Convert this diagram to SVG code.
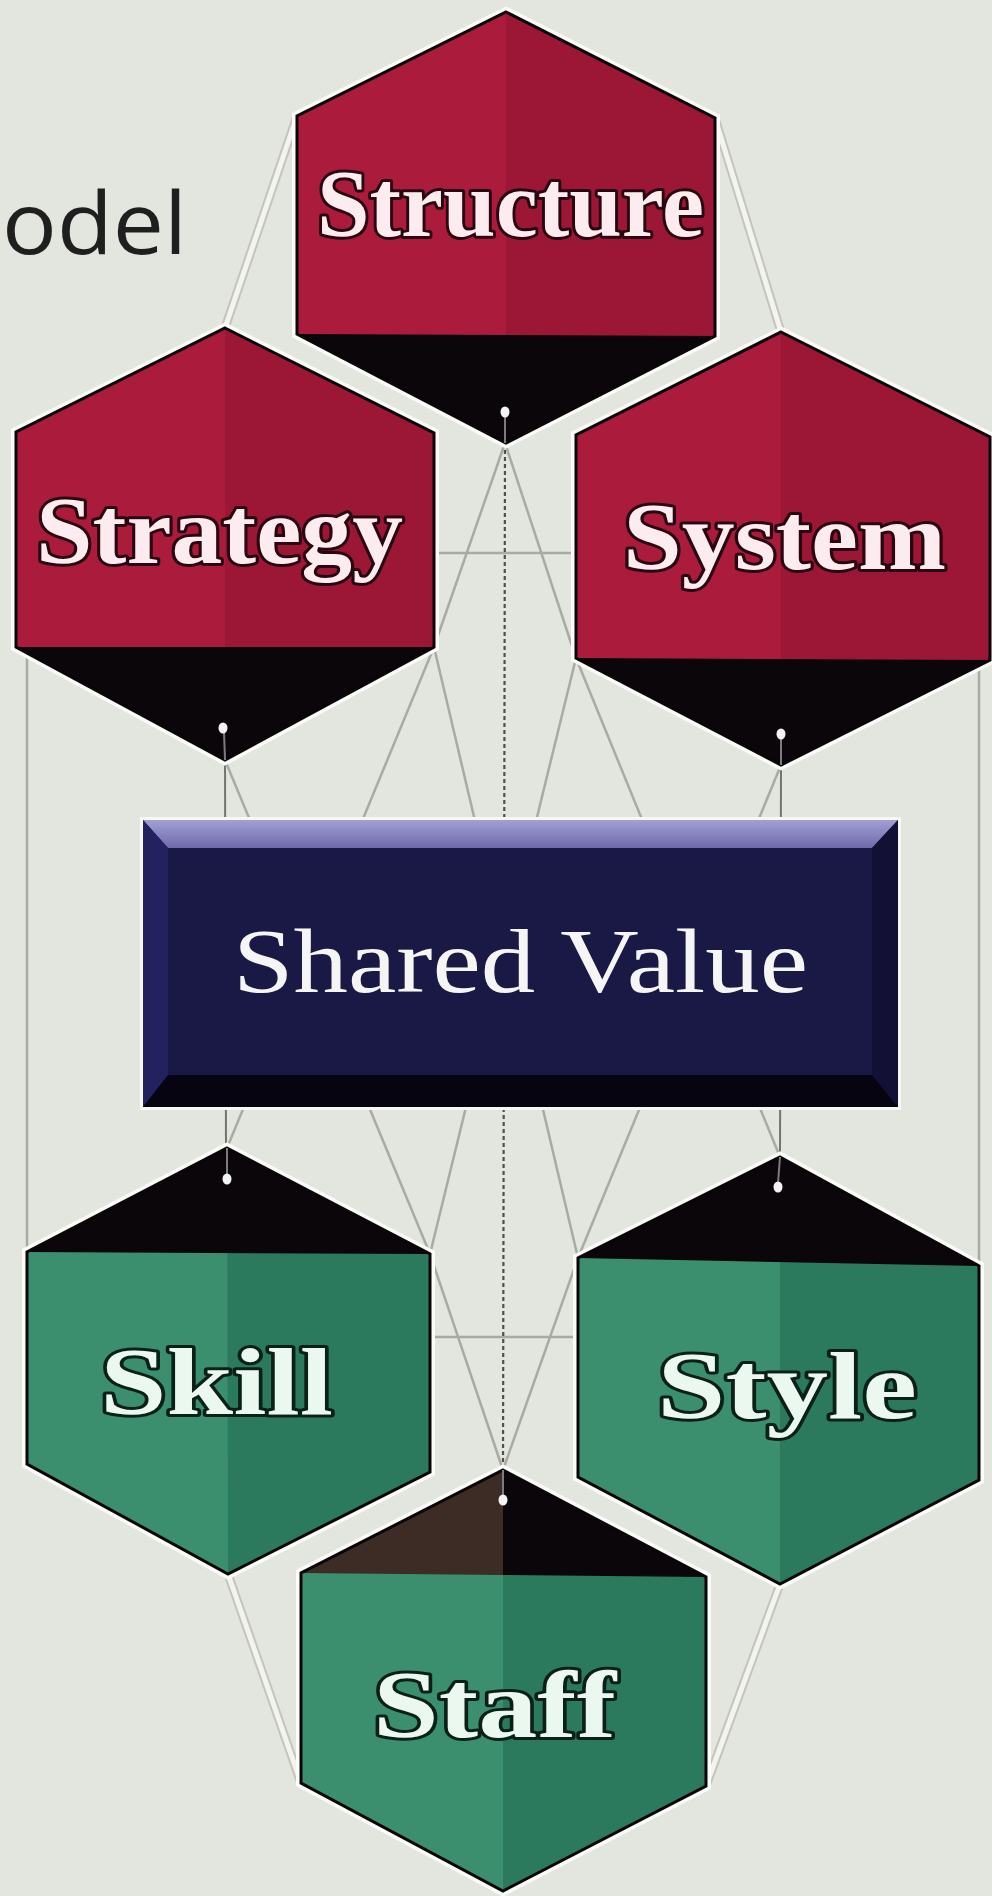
<svg xmlns="http://www.w3.org/2000/svg" width="992" height="1896" viewBox="0 0 992 1896">
<defs>
<style>
.bg{fill:#e3e6de}
.halo{fill:none;stroke:#fbfcf8;stroke-width:10;stroke-linejoin:miter}
.edge{fill:none;stroke:#0a0508;stroke-width:3;stroke-linejoin:miter}
.redL{fill:#aa1b3c}.redR{fill:#9c1636}
.grnL{fill:#3b8f6f}.grnR{fill:#2c7a5d}
.blk{fill:#0b0609}.brn{fill:#3d2b26}
.lbl{font-family:"Liberation Serif","Times New Roman",serif;font-weight:bold;font-size:96px;paint-order:stroke;stroke-width:6;stroke-linejoin:round}
.lr{fill:#fdecef;stroke:#2a0710}
.lg{fill:#ebf8f0;stroke:#0a2018}
.ln{fill:none;stroke:#a9aba3;stroke-width:2.5}
.ctr{fill:none;stroke:#4e504c;stroke-width:2.2;stroke-dasharray:4 3}
.str{fill:none;stroke:#72746e;stroke-width:2}
.rib{fill:none;stroke:#c3c5bd;stroke-width:9}
.ribw{fill:none;stroke:#f3f4ef;stroke-width:5}
.dot{fill:#f4f4f4}
.hook{stroke:#7a7c80;stroke-width:2}
</style>
<linearGradient id="bev" x1="0" y1="0" x2="0" y2="1">
<stop offset="0" stop-color="#a29fd4"/><stop offset="1" stop-color="#6e6bab"/>
</linearGradient>
</defs>
<rect class="bg" x="0" y="0" width="992" height="1896"/>
<text x="2" y="254" font-family="'Open Sans','Noto Sans',sans-serif" font-size="86" fill="#1f1f1f" textLength="185" lengthAdjust="spacingAndGlyphs">odel</text>

<g id="connectors">
<line class="rib" x1="297" y1="116" x2="225" y2="328"/><line class="ribw" x1="297" y1="116" x2="225" y2="328"/>
<line class="rib" x1="715" y1="118" x2="781" y2="332"/><line class="ribw" x1="715" y1="118" x2="781" y2="332"/>
<line class="rib" x1="228" y1="1574" x2="301" y2="1783"/><line class="ribw" x1="228" y1="1574" x2="301" y2="1783"/>
<line class="rib" x1="780" y1="1584" x2="706" y2="1786"/><line class="ribw" x1="780" y1="1584" x2="706" y2="1786"/>
<line class="ln" x1="27" y1="645" x2="27" y2="1255"/>
<line class="ln" x1="979" y1="660" x2="979" y2="1268"/>
<line class="ln" x1="434" y1="553" x2="576" y2="553"/>
<line class="ln" x1="430" y1="1337" x2="578" y2="1337"/>
<line class="ln" x1="505" y1="443" x2="434" y2="647"/>
<line class="ln" x1="505" y1="443" x2="576" y2="658"/>
<line class="ln" x1="434" y1="647" x2="227" y2="1148"/>
<line class="ln" x1="576" y1="658" x2="780" y2="1157"/>
<line class="ln" x1="434" y1="647" x2="578" y2="1258"/>
<line class="ln" x1="576" y1="658" x2="430" y2="1254"/>
<line class="ln" x1="225" y1="760" x2="430" y2="1254"/>
<line class="ln" x1="781" y1="765" x2="578" y2="1258"/>
<line class="ln" x1="430" y1="1254" x2="503" y2="1470"/>
<line class="ln" x1="578" y1="1258" x2="503" y2="1470"/>
<line class="str" x1="225" y1="760" x2="226" y2="1148"/>
<line class="str" x1="781" y1="765" x2="780" y2="1157"/>
<line class="ctr" x1="505" y1="443" x2="503" y2="1470"/>
</g>

<g id="structure">
<polygon class="halo" points="506,12 715,118 715,336 506,443 297,334 297,116"/>
<polygon class="redL" points="506,12 715,118 715,336 506,443 297,334 297,116"/>
<polygon class="redR" points="506,12 715,118 715,336 506,443"/>
<polygon class="blk" points="297,334 715,336 506,443"/>
<polygon class="edge" points="506,12 715,118 715,336 506,443 297,334 297,116"/>
<line class="hook" x1="505" y1="416" x2="505" y2="443"/>
<ellipse class="dot" cx="505" cy="412" rx="4.5" ry="5.5"/>
<text class="lbl lr" x="317" y="236" textLength="387" lengthAdjust="spacingAndGlyphs">Structure</text>
</g>

<g id="strategy">
<polygon class="halo" points="225,328 434,433 434,647 225,760 16,647 16,432"/>
<polygon class="redL" points="225,328 434,433 434,647 225,760 16,647 16,432"/>
<polygon class="redR" points="225,328 434,433 434,647 225,760"/>
<polygon class="blk" points="16,647 434,647 225,760"/>
<polygon class="edge" points="225,328 434,433 434,647 225,760 16,647 16,432"/>
<line class="hook" x1="224" y1="732" x2="225" y2="760"/>
<ellipse class="dot" cx="223" cy="728" rx="4.5" ry="5.5"/>
<text class="lbl lr" x="36" y="563" textLength="367" lengthAdjust="spacingAndGlyphs">Strategy</text>
</g>

<g id="system">
<polygon class="halo" points="781,332 990,437 990,660 781,765 576,658 576,435"/>
<polygon class="redL" points="781,332 990,437 990,660 781,765 576,658 576,435"/>
<polygon class="redR" points="781,332 990,437 990,660 781,765"/>
<polygon class="blk" points="576,658 990,660 781,765"/>
<polygon class="edge" points="781,332 990,437 990,660 781,765 576,658 576,435"/>
<line class="hook" x1="781" y1="738" x2="781" y2="765"/>
<ellipse class="dot" cx="781" cy="734" rx="4.5" ry="5.5"/>
<text class="lbl lr" x="623" y="569" textLength="323" lengthAdjust="spacingAndGlyphs">System</text>
</g>

<g id="shared-value">
<rect x="140" y="817" width="761" height="293" fill="#f7f8f4"/>
<rect x="143" y="820" width="755" height="287" fill="#1a1946"/>
<polygon points="143,820 898,820 872,848 168,848" fill="url(#bev)"/>
<polygon points="143,820 168,848 168,1075 143,1107" fill="#23215e"/>
<polygon points="898,820 872,848 872,1075 898,1107" fill="#121135"/>
<polygon points="143,1107 168,1075 872,1075 898,1107" fill="#050410"/>
<text x="233" y="992" font-family="'Liberation Serif','Times New Roman',serif" font-size="92" fill="#f5f5f5" textLength="575" lengthAdjust="spacingAndGlyphs">Shared Value</text>
</g>

<g id="skill">
<polygon class="halo" points="227,1148 430,1254 430,1472 228,1574 27,1464 27,1252"/>
<polygon class="grnL" points="227,1148 430,1254 430,1472 228,1574 27,1464 27,1252"/>
<polygon class="grnR" points="227,1148 430,1254 430,1472 228,1574"/>
<polygon class="blk" points="227,1148 430,1254 27,1252"/>
<polygon class="edge" points="227,1148 430,1254 430,1472 228,1574 27,1464 27,1252"/>
<line class="hook" x1="227" y1="1148" x2="227" y2="1175"/>
<ellipse class="dot" cx="227" cy="1179" rx="4.5" ry="5.5"/>
<text class="lbl lg" x="100" y="1414" textLength="233" lengthAdjust="spacingAndGlyphs">Skill</text>
</g>

<g id="style">
<polygon class="halo" points="780,1157 979,1266 979,1480 780,1584 578,1477 578,1258"/>
<polygon class="grnL" points="780,1157 979,1266 979,1480 780,1584 578,1477 578,1258"/>
<polygon class="grnR" points="780,1157 979,1266 979,1480 780,1584"/>
<polygon class="blk" points="780,1157 979,1266 578,1258"/>
<polygon class="edge" points="780,1157 979,1266 979,1480 780,1584 578,1477 578,1258"/>
<line class="hook" x1="780" y1="1157" x2="778" y2="1183"/>
<ellipse class="dot" cx="778" cy="1187" rx="4.5" ry="5.5"/>
<text class="lbl lg" x="657" y="1418" textLength="260" lengthAdjust="spacingAndGlyphs">Style</text>
</g>

<g id="staff">
<polygon class="halo" points="503,1470 706,1577 706,1786 503,1891 301,1783 301,1573"/>
<polygon class="grnL" points="503,1470 706,1577 706,1786 503,1891 301,1783 301,1573"/>
<polygon class="grnR" points="503,1470 706,1577 706,1786 503,1891"/>
<polygon class="brn" points="503,1470 503,1575 301,1573"/>
<polygon class="blk" points="503,1470 706,1577 503,1575"/>
<polygon class="edge" points="503,1470 706,1577 706,1786 503,1891 301,1783 301,1573"/>
<line class="hook" x1="503" y1="1470" x2="503" y2="1496"/>
<ellipse class="dot" cx="503" cy="1500" rx="4.5" ry="5.5"/>
<text class="lbl lg" x="373" y="1737" textLength="243" lengthAdjust="spacingAndGlyphs">Staff</text>
</g>
</svg>
